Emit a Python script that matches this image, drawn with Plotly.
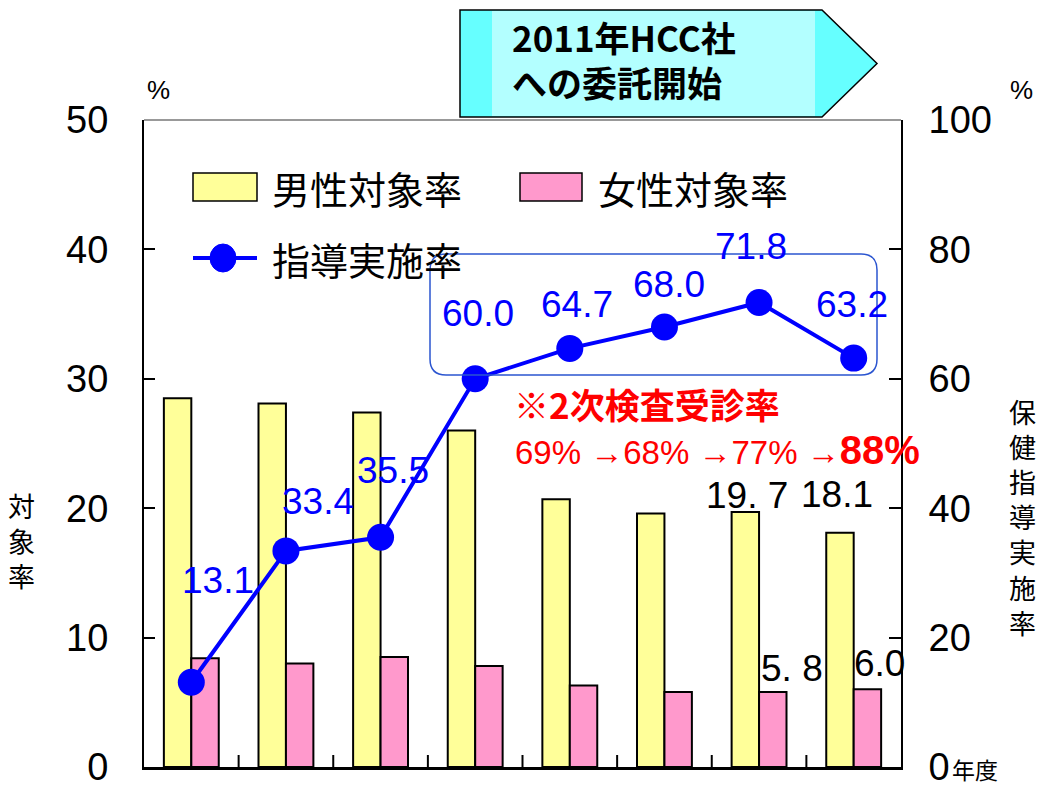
import plotly.graph_objects as go

# ---- data -------------------------------------------------------------
years = ["2008", "2009", "2010", "2011", "2012", "2013", "2014", "2015"]
male_rate = [28.5, 28.1, 27.4, 26.0, 20.7, 19.6, 19.7, 18.1]      # 男性対象率 (%)
female_rate = [8.4, 8.0, 8.5, 7.8, 6.3, 5.8, 5.8, 6.0]            # 女性対象率 (%)
guidance_rate = [13.1, 33.4, 35.5, 60.0, 64.7, 68.0, 71.8, 63.2]  # 指導実施率 (%)
exam_rates = [69, 68, 77, 88]                                    # 2次検査受診率 (%)
labeled_bars = [6, 7]                                            # bars carrying value labels

# ---- styling ----------------------------------------------------------
W, H = 1037, 785
L, R, T, B = 144, 901, 120, 767          # plot area in pixels
NUM = "Liberation Sans, Arial, sans-serif"
JP = "Noto Sans CJK JP, sans-serif"
YELLOW, PINK, BLUE = "#FFFF99", "#FF99CC", "#0000FF"


def px(x):
    return (x - L) / (R - L)


def py(y):
    return (B - y) / (B - T)


def note(x, y, text, size, family=JP, color="black", xanchor="center"):
    return dict(x=px(x), y=py(y), xref="paper", yref="paper", text=text,
                showarrow=False, xanchor=xanchor, yanchor="middle",
                font=dict(family=family, size=size, color=color))


fig = go.Figure()
fig.add_trace(go.Bar(x=years, y=male_rate, name="男性対象率",
                     marker=dict(color=YELLOW, line=dict(color="black", width=2))))
fig.add_trace(go.Bar(x=years, y=female_rate, name="女性対象率",
                     marker=dict(color=PINK, line=dict(color="black", width=2))))
fig.add_trace(go.Scatter(x=years, y=guidance_rate, name="指導実施率", yaxis="y2",
                         mode="lines+markers",
                         line=dict(color=BLUE, width=4),
                         marker=dict(color=BLUE, size=27)))

annotations = []

# value labels on the line (offsets in pixels from each point)
line_offsets = [(27, 102), (32, 49), (12, 67), (3, 65), (7, 44), (5, 43), (-8, 56), (-2, 54)]
for i, (v, (dx, dy)) in enumerate(zip(guidance_rate, line_offsets)):
    annotations.append(dict(x=i, y=v, xref="x", yref="y2", text=f"{v:.1f}",
                            showarrow=False, xanchor="center", yanchor="middle",
                            xshift=dx, yshift=dy,
                            font=dict(family=NUM, size=37, color=BLUE)))

# value labels on the last bars
half_bar = 13.75
male_offsets = {6: (2, 17), 7: (-3, 38)}
female_offsets = {6: (19, 23), 7: (12, 26)}
for i in labeled_bars:
    for vals, offs, side in ((male_rate, male_offsets, -1), (female_rate, female_offsets, 1)):
        dx, dy = offs[i]
        t = f"{vals[i]:.1f}"
        if i == 6:
            t = t.replace(".", ". ")
        annotations.append(dict(x=i, y=vals[i], xref="x", yref="y", text=t,
                                showarrow=False, xanchor="center", yanchor="middle",
                                xshift=side * half_bar + dx, yshift=dy,
                                font=dict(family=NUM, size=37, color="black")))

shapes = []

# short inside ticks on the category boundaries of the x axis
n = len(years)
for k in range(1, n):
    shapes.append(dict(type="line", xref="x", yref="paper", x0=k - 0.5, x1=k - 0.5,
                       y0=0, y1=12 / (B - T), line=dict(color="black", width=2)))

# legend drawn by hand
shapes.append(dict(type="rect", xref="paper", yref="paper",
                   x0=px(193), x1=px(257), y0=py(201), y1=py(173),
                   fillcolor=YELLOW, line=dict(color="black", width=1.5)))
shapes.append(dict(type="rect", xref="paper", yref="paper",
                   x0=px(520), x1=px(582), y0=py(201), y1=py(173),
                   fillcolor=PINK, line=dict(color="black", width=1.5)))
shapes.append(dict(type="line", xref="paper", yref="paper",
                   x0=px(193), x1=px(257), y0=py(258), y1=py(258),
                   line=dict(color=BLUE, width=4)))
shapes.append(dict(type="circle", xref="paper", yref="paper",
                   x0=px(210), x1=px(236), y0=py(272), y1=py(244),
                   fillcolor=BLUE, line=dict(color=BLUE, width=1)))
for txt, x, y in [("男性対象率", 270, 187), ("女性対象率", 596, 187), ("指導実施率", 270, 258)]:
    annotations.append(note(x, y, txt, 38, xanchor="left"))

# frame top edge
shapes.append(dict(type="line", xref="paper", yref="paper", x0=0, x1=1, y0=1, y1=1,
                   line=dict(color="#999999", width=2)))

# rounded box around the post-2011 points
bx0, bx1, by0, by1, r = 430, 877, 254, 375, 16
rx, ry = r / (R - L), r / (B - T)
X0, X1, Y0, Y1 = px(bx0), px(bx1), py(by1), py(by0)
path = (f"M{X0 + rx},{Y0} L{X1 - rx},{Y0} Q{X1},{Y0} {X1},{Y0 + ry} "
        f"L{X1},{Y1 - ry} Q{X1},{Y1} {X1 - rx},{Y1} L{X0 + rx},{Y1} "
        f"Q{X0},{Y1} {X0},{Y1 - ry} L{X0},{Y0 + ry} Q{X0},{Y0} {X0 + rx},{Y0} Z")
shapes.append(dict(type="path", xref="paper", yref="paper", path=path,
                   line=dict(color="#2B55D0", width=1.5)))

# arrow banner
ax0, ax1, atip, at, ab = 460, 822, 877, 10, 117
am = (at + ab) / 2
banner = (f"M{px(ax0)},{py(at)} L{px(ax1)},{py(at)} L{px(atip)},{py(am)} "
          f"L{px(ax1)},{py(ab)} L{px(ax0)},{py(ab)} Z")
shapes.append(dict(type="path", xref="paper", yref="paper", path=banner,
                   fillcolor="#66FFFF", line=dict(color="black", width=1.5)))
shapes.append(dict(type="rect", xref="paper", yref="paper",
                   x0=px(492), x1=px(815), y0=py(ab - 1), y1=py(at + 1),
                   fillcolor="#B3FFFF", line=dict(width=0)))
annotations.append(note(510, 37, "<b>2011年HCC社</b>", 35, xanchor="left"))
annotations.append(note(510, 81, "<b>への委託開始</b>", 35, xanchor="left"))

# secondary-exam note
annotations.append(note(512, 403, "<b>※2次検査受診率</b>", 35, color="#FF0000",
                        xanchor="left"))
parts = [f"{v}%" for v in exam_rates]
rates_text = (" →".join(parts[:-1])
              + f" →<b><span style='font-size:40px'>{parts[-1]}</span></b>")
annotations.append(note(513, 450, rates_text, 33, family=NUM,
                        color="#FF0000", xanchor="left"))

# axis captions
annotations += [
    note(158, 90, "%", 26, family=NUM),
    note(1021, 90, "%", 26, family=NUM),
    note(21, 540, "対<br>象<br>率", 27),
    note(1022, 517, "保<br>健<br>指<br>導<br>実<br>施<br>率", 27),
    note(950, 769, "年度", 23, xanchor="left"),
]

fig.update_layout(
    width=W, height=H,
    margin=dict(l=L, r=W - R, t=T, b=H - B, pad=0),
    paper_bgcolor="white", plot_bgcolor="white",
    barmode="group", bargap=0.42, bargroupgap=0,
    showlegend=False,
    xaxis=dict(type="category", range=[-0.5, n - 0.5], autorange=False,
               showticklabels=False, ticks="",
               showline=True, linecolor="black", linewidth=2.5, showgrid=False,
               zeroline=False, automargin=False),
    yaxis=dict(range=[0, 50], autorange=False, dtick=10, ticks="inside", ticklen=11,
               tickwidth=2, tickcolor="black", showline=True, linecolor="black",
               linewidth=2, showgrid=False, zeroline=False, automargin=False,
               ticklabelstandoff=26, ticklabeloverflow="allow",
               tickfont=dict(family=NUM, size=38, color="black")),
    yaxis2=dict(range=[0, 100], autorange=False, dtick=20, overlaying="y", side="right",
                ticks="inside", ticklen=12, tickwidth=2, tickcolor="black",
                showline=True, linecolor="black", linewidth=2, showgrid=False,
                zeroline=False, automargin=False, ticklabelstandoff=18,
                ticklabeloverflow="allow",
                tickfont=dict(family=NUM, size=38, color="black")),
    shapes=shapes,
    annotations=annotations,
)

fig.write_html("out.html")
